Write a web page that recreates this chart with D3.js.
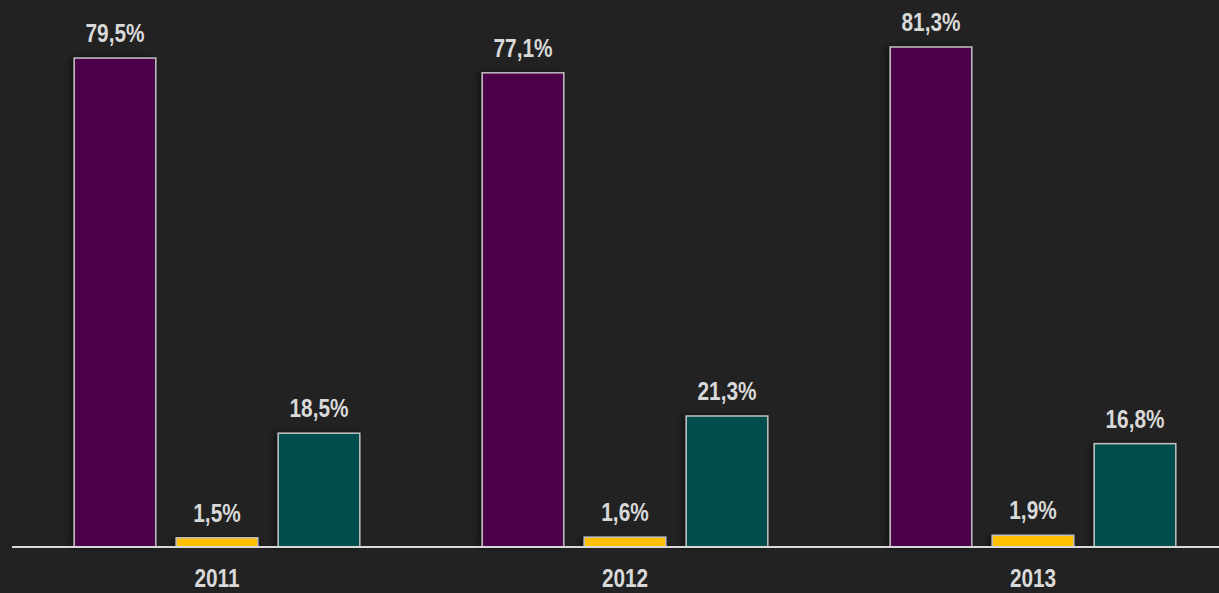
<!DOCTYPE html>
<html>
<head>
<meta charset="utf-8">
<script src="https://cdn.jsdelivr.net/npm/d3@7"></script>
<style>
  html, body { margin: 0; padding: 0; background: #222222; overflow: hidden; }
  text { font-family: "Liberation Sans", Arial, sans-serif; font-weight: bold; }
</style>
</head>
<body>
<div id="chart"></div>
<script>
// data
const years = ["2011", "2012", "2013"];
const seriesNames = ["a", "b", "c"];
const serieA = [79.5, 77.1, 81.3];
const serieB = [1.5, 1.6, 1.9];
const serieC = [18.5, 21.3, 16.8];
const colors = ["#4b0049", "#ffc000", "#004d4d"];

const width = 1219, height = 593;
const baseY = 547;
const narrow = 0.8; // police étroite simulée

const svg = d3.select("#chart").append("svg")
  .attr("width", width)
  .attr("height", height)
  .style("background-color", "#222222");

// ombre à gauche des barres
const defs = svg.append("defs");
const f = defs.append("filter").attr("id", "shadow")
  .attr("x", "-30%").attr("y", "-10%").attr("width", "160%").attr("height", "120%");
f.append("feDropShadow").attr("dx", -3).attr("dy", 0).attr("stdDeviation", 3)
  .attr("flood-color", "#000").attr("flood-opacity", 0.5);

const x0 = d3.scaleBand().domain(years).range([13, 1237]);
const x1 = d3.scaleBand().domain(seriesNames).range([0, x0.bandwidth()])
  .paddingInner(0.2).paddingOuter(0.6);
const y = d3.scaleLinear().domain([0, 100]).range([baseY, baseY - 615]);

const rows = years.map((yr, i) => ({
  year: yr,
  vals: [serieA[i], serieB[i], serieC[i]].map((v, j) => ({ key: seriesNames[j], v, c: colors[j] }))
}));

const fmt = v => d3.format(".1f")(v).replace(".", ",") + "%";

const g = svg.selectAll("g.grp")
  .data(rows)
  .join("g")
  .attr("class", "grp")
  .attr("transform", d => `translate(${x0(d.year)},0)`);

g.selectAll("rect")
  .data(d => d.vals)
  .join("rect")
  .attr("x", d => x1(d.key))
  .attr("y", d => y(d.v))
  .attr("width", x1.bandwidth())
  .attr("height", d => baseY - y(d.v))
  .attr("fill", d => d.c)
  .attr("stroke", "#c0c0c0")
  .attr("stroke-width", 1.5)
  .attr("filter", "url(#shadow)");

g.selectAll("text.val")
  .data(d => d.vals)
  .join("text")
  .attr("class", "val")
  .attr("transform", d => `translate(${x1(d.key) + x1.bandwidth() / 2},${y(d.v) - 16}) scale(${narrow},1)`)
  .attr("text-anchor", "middle")
  .attr("fill", "#d9d9d9")
  .style("font-size", "26px")
  .text(d => fmt(d.v));

// axe
svg.append("line")
  .attr("x1", 12).attr("x2", width)
  .attr("y1", baseY).attr("y2", baseY)
  .attr("stroke", "#d9d9d9")
  .attr("stroke-width", 2);

svg.selectAll("text.year")
  .data(years)
  .join("text")
  .attr("class", "year")
  .attr("transform", d => `translate(${x0(d) + x0.bandwidth() / 2},587) scale(${narrow},1)`)
  .attr("text-anchor", "middle")
  .attr("fill", "#d9d9d9")
  .style("font-size", "26px")
  .text(d => d);
</script>
</body>
</html>
